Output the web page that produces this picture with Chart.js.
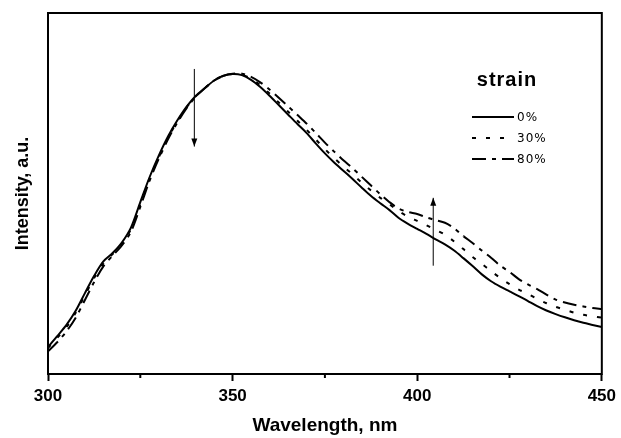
<!DOCTYPE html>
<html>
<head>
<meta charset="utf-8">
<script src="https://cdn.jsdelivr.net/npm/chart.js@4.4.0/dist/chart.umd.min.js"></script>
<style>
    html, body { margin: 0; padding: 0; background: #fff; }
    #wrap { width: 621px; height: 438px; }
</style>
</head>
<body>
<div id="wrap"><canvas id="spectrum" width="621" height="438"></canvas></div>
<script>
// wavelength grid, nm
const wavelengths = [
    300, 302.5, 305, 307.5, 310, 312.5, 315, 317.5, 320, 322.5,
    325, 327.5, 330, 332.5, 335, 337.5, 340, 342.5, 345, 347.5,
    350, 352.5, 355, 357.5, 360, 362.5, 365, 367.5, 370, 372.5,
    375, 377.5, 380, 382.5, 385, 387.5, 390, 392.5, 395, 397.5,
    400, 402.5, 405, 407.5, 410, 412.5, 415, 417.5, 420, 422.5,
    425, 427.5, 430, 432.5, 435, 437.5, 440, 442.5, 445, 447.5, 450
];

// intensity (a.u.)
const strain0 = [
    7.5, 10.5, 13.6, 17.5, 22.4, 27.2, 31.2, 33.5, 36.4, 40.6,
    47.6, 54.5, 60.5, 65.8, 70.2, 74.0, 77.0, 79.2, 81.3, 82.6,
    83.1, 82.8, 81.5, 79.5, 77.1, 74.5, 71.9, 69.3, 66.8, 63.9,
    61.1, 58.6, 56.3, 54.0, 51.6, 49.3, 47.3, 45.4, 43.2, 41.6,
    40.2, 38.8, 37.3, 35.9, 34.2, 32.1, 29.9, 27.6, 25.7, 24.2,
    22.9, 21.6, 20.2, 18.8, 17.6, 16.6, 15.7, 14.9, 14.2, 13.6, 13.0
];
const strain30 = [
    7.2, 10.0, 13.0, 17.0, 21.8, 26.6, 30.6, 33.2, 36.0, 40.2,
    47.0, 54.0, 60.0, 65.4, 69.9, 73.8, 76.9, 79.2, 81.3, 82.6,
    83.1, 82.9, 81.8, 80.0, 77.7, 75.2, 72.7, 70.2, 67.7, 65.0,
    62.3, 59.8, 57.5, 55.3, 53.0, 50.8, 48.8, 47.0, 45.1, 43.6,
    42.4, 41.2, 39.9, 38.6, 36.7, 34.6, 32.4, 30.5, 28.5, 26.6,
    24.9, 23.4, 22.2, 20.8, 19.6, 18.6, 17.8, 17.0, 16.4, 16.0, 15.6
];
const strain80 = [
    6.3, 8.8, 11.8, 15.6, 20.5, 25.5, 29.8, 32.8, 35.6, 39.5,
    46.3, 53.5, 59.6, 65.0, 69.6, 73.6, 76.8, 79.2, 81.3, 82.6,
    83.2, 83.2, 82.3, 80.8, 78.8, 76.5, 74.2, 71.8, 69.4, 66.8,
    64.1, 61.6, 59.2, 57.0, 54.6, 52.2, 49.8, 47.6, 45.8, 44.9,
    44.3, 43.4, 42.6, 41.9, 40.4, 38.2, 36.3, 34.2, 32.2, 30.0,
    28.3, 26.3, 24.8, 23.5, 22.0, 20.6, 19.8, 19.2, 18.7, 18.3, 18.0
];

const xMajorTicks = [300, 350, 400, 450];
const xMinorTicks = [325, 375, 425];
const seriesLabels = ['0%', '30%', '80%'];
const legendTitle = 'strain';

// arrows: [wavelength, start intensity, end intensity]
const arrowDown = [339.5, 84.5, 63.0];
const arrowUp = [404.2, 30.0, 48.8];

const toPoints = ys => ys.map((y, i) => ({x: wavelengths[i], y: y}));

const dashes = [[], [4, 10], [14, 6, 4, 6]];

const framePlugin = {
    id: 'frame',
    afterDraw(chart) {
        const {ctx, chartArea: a, scales} = chart;
        ctx.save();
        ctx.strokeStyle = '#000';
        ctx.lineWidth = 2;
        ctx.strokeRect(a.left, a.top, a.right - a.left, a.bottom - a.top);

        // minor ticks
        xMinorTicks.forEach(v => {
            const px = scales.x.getPixelForValue(v);
            ctx.beginPath();
            ctx.moveTo(px, a.bottom);
            ctx.lineTo(px, a.bottom + 4);
            ctx.stroke();
        });

        // arrows
        const drawArrow = (arr) => {
            const px = scales.x.getPixelForValue(arr[0]);
            const y1 = scales.y.getPixelForValue(arr[1]);
            const y2 = scales.y.getPixelForValue(arr[2]);
            const dir = y2 > y1 ? 1 : -1;
            ctx.lineWidth = 1;
            ctx.beginPath();
            ctx.moveTo(px + 0.5, y1);
            ctx.lineTo(px + 0.5, y2);
            ctx.stroke();
            ctx.beginPath();
            ctx.moveTo(px + 0.5, y2);
            ctx.lineTo(px - 2.5, y2 - dir * 8);
            ctx.lineTo(px + 3.5, y2 - dir * 8);
            ctx.closePath();
            ctx.fillStyle = '#000';
            ctx.fill();
        };
        drawArrow(arrowDown);
        drawArrow(arrowUp);

        // legend
        ctx.fillStyle = '#000';
        ctx.textBaseline = 'middle';
        ctx.textAlign = 'center';
        ctx.font = 'bold 20px "Liberation Sans", Arial, sans-serif';
        if ('letterSpacing' in ctx) ctx.letterSpacing = '1px';
        ctx.fillText(legendTitle, 507, 80);

        ctx.textAlign = 'left';
        ctx.font = '12px "DejaVu Sans", sans-serif';
        seriesLabels.forEach((lbl, i) => {
            const y = 117 + i * 21;
            ctx.lineWidth = 2;
            ctx.setLineDash(dashes[i]);
            ctx.beginPath();
            ctx.moveTo(472, y);
            ctx.lineTo(514, y);
            ctx.stroke();
            ctx.setLineDash([]);
            ctx.fillText(lbl, 517, y + 1);
        });
        ctx.restore();
    }
};

const ctx = document.getElementById('spectrum').getContext('2d');
new Chart(ctx, {
    type: 'line',
    data: {
        datasets: [strain0, strain30, strain80].map((ys, i) => ({
            label: seriesLabels[i],
            data: toPoints(ys),
            borderColor: '#000',
            borderWidth: 2,
            borderDash: dashes[i],
            pointRadius: 0,
            tension: 0.3,
            fill: false
        }))
    },
    options: {
        responsive: false,
        animation: false,
        layout: {padding: {top: 13, right: 13, left: 0, bottom: 0}},
        plugins: {legend: {display: false}, tooltip: {enabled: false}},
        scales: {
            x: {
                type: 'linear',
                min: 300,
                max: 450,
                afterBuildTicks: scale => {
                    scale.ticks = xMajorTicks.map(v => ({value: v}));
                },
                ticks: {
                    color: '#000',
                    padding: 5,
                    maxRotation: 0,
                    autoSkip: false,
                    font: {family: '"Liberation Sans", Arial, sans-serif', size: 17, weight: 'bold'}
                },
                grid: {drawOnChartArea: false, tickLength: 7, tickWidth: 2, tickColor: '#000'},
                border: {display: false},
                title: {
                    display: true,
                    text: 'Wavelength, nm',
                    color: '#000',
                    font: {family: '"Liberation Sans", Arial, sans-serif', size: 19, weight: 'bold'},
                    padding: {top: 0, bottom: 1}
                },
                afterFit: scale => { scale.height = 64; }
            },
            y: {
                min: 0,
                max: 100,
                ticks: {display: false},
                grid: {display: false},
                border: {display: false},
                title: {
                    display: true,
                    text: 'Intensity, a.u.',
                    color: '#000',
                    font: {family: '"Liberation Sans", Arial, sans-serif', size: 18, weight: 'bold'},
                    padding: {top: 12, bottom: 0}
                },
                afterFit: scale => { scale.width = 48; }
            }
        }
    },
    plugins: [framePlugin]
});
</script>
</body>
</html>
